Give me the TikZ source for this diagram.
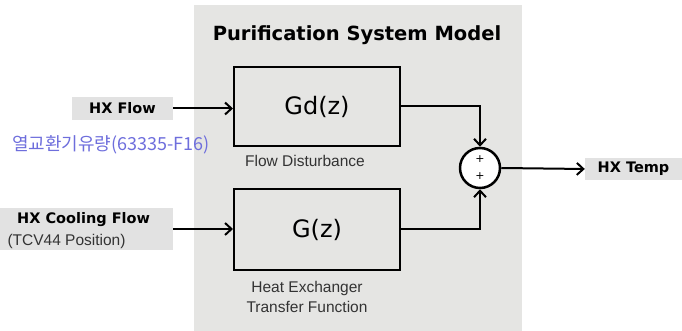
\documentclass[tikz,border=0pt]{standalone}
\usepackage{fontspec}
\setmainfont{Liberation Sans}
\newfontfamily\djb{DejaVu Sans}[BoldFont={DejaVu Sans Bold}]
\newfontfamily\kofont{Noto Sans CJK KR}
\usetikzlibrary{arrows.meta}
\definecolor{panelgray}{RGB}{229,229,227}
\definecolor{labgray}{RGB}{226,226,226}
\definecolor{kblue}{RGB}{110,110,220}
\begin{document}
\begin{tikzpicture}[x=1pt,y=1pt,
  blockbox/.style={draw=black,line width=2pt,minimum width=166pt,inner sep=0pt,font=\djb\fontsize{24}{26}\selectfont},
  tagbox/.style={fill=labgray,inner sep=0pt,font=\djb\bfseries\fontsize{14.5}{16}\selectfont},
  sublab/.style={font=\fontsize{15.5}{20}\selectfont,text=black!80,align=center},
  flowarrow/.style={line width=2pt,-{Straight Barb[length=6.5pt,width=12pt,line width=2pt]}},
  plussign/.style={font=\djb\fontsize{11}{11}\selectfont,inner sep=0pt}]
\useasboundingbox (0,0) rectangle (682,331);
\fill[panelgray] (194,0) rectangle (522,326);
\node (title) at (357,296) {\djb\bfseries\fontsize{19.5}{22}\selectfont Purification System Model};
\node[blockbox,minimum height=79pt] (gd) at (317,224.5) {Gd(z)};
\node[sublab] (gdlab) at (305,170) {Flow Disturbance};
\node[blockbox,minimum height=81pt] (g) at (317,101.5) {G(z)};
\node[sublab] (glab) at (307,34) {Heat Exchanger\\Transfer Function};
\node[circle,draw=black,fill=white,line width=2.5pt,minimum size=40pt,inner sep=0pt] (sum) at (480,163) {};
\node[plussign] (p1) at (480,171.5) {+};
\node[plussign] (p2) at (480,154.5) {+};
\node[tagbox,minimum width=101pt,minimum height=23pt] (hxflow) at (122.5,222.5) {HX Flow};
\node[text=kblue,font=\kofont\fontsize{18}{20}\selectfont] (ko) at (111,186) {열교환기유량(63335-F16)};
\node[fill=labgray,minimum width=173pt,minimum height=42pt,inner sep=0pt] (cool) at (86.5,102) {};
\node[tagbox,fill=none,anchor=west] (coolt) at (17,111) {HX Cooling Flow};
\node[sublab,anchor=west] (coolp) at (4,90) {(TCV44 Position)};
\node[tagbox,minimum width=97pt,minimum height=22pt] (hxtemp) at (633.5,162) {HX Temp};
\draw[flowarrow] (hxflow.east) -- (hxflow.east -| gd.west);
\draw[flowarrow] (cool.east) -- (cool.east -| g.west);
\draw[flowarrow] (gd.east) -| (sum.north);
\draw[flowarrow] (g.east) -| (sum.south);
\draw[flowarrow] (sum.east) -- (hxtemp.west);
\end{tikzpicture}
\end{document}
